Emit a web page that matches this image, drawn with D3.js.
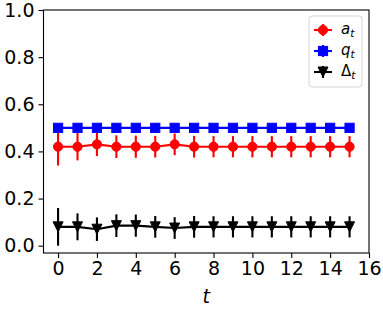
<!DOCTYPE html>
<html>
<head>
<meta charset="utf-8">
<script src="https://cdn.jsdelivr.net/npm/d3@7"></script>
<style>
  body { margin: 0; background: #fff; }
  svg { display: block; }
  .axis text { font-family: "DejaVu Sans", sans-serif; font-size: 19px; fill: #000; }
  .axis path, .axis line { stroke: #000; stroke-width: 1.1; }
</style>
</head>
<body>
<svg width="383" height="310"></svg>
<script>
// values
const t = [0,1,2,3,4,5,6,7,8,9,10,11,12,13,14,15]
const a = [0.42,0.42,0.43,0.42,0.42,0.42,0.43,0.42,0.42,0.42,0.42,0.42,0.42,0.42,0.42,0.42]
const aErr = [0.08,0.058,0.05,0.048,0.047,0.046,0.046,0.046,0.045,0.045,0.045,0.045,0.045,0.045,0.045,0.045]
const q = [0.5,0.5,0.5,0.5,0.5,0.5,0.5,0.5,0.5,0.5,0.5,0.5,0.5,0.5,0.5,0.5]
const qErr = [0,0,0,0,0,0,0,0,0,0,0,0,0,0,0,0]
const delta = [0.08,0.08,0.07,0.085,0.085,0.08,0.075,0.08,0.08,0.08,0.08,0.08,0.08,0.08,0.08,0.08]
const deltaErr = [0.08,0.057,0.05,0.048,0.047,0.046,0.046,0.046,0.045,0.045,0.045,0.045,0.045,0.045,0.045,0.045]
const xTicks = [0,2,4,6,8,10,12,14,16]
const yTicks = [0.0,0.2,0.4,0.6,0.8,1.0]

const svg = d3.select('svg')
const pLeft = 43.5, pRight = 369, pTop = 10, pBottom = 253

const x = d3.scaleLinear().domain([-0.75, 16]).range([pLeft, pRight])
const y = d3.scaleLinear().domain([-0.031, 1.0]).range([pBottom, pTop])

const series = [
  {vals: a, err: aErr, color: '#ff0000', marker: 'circle', label: 'a'},
  {vals: q, err: qErr, color: '#0000ff', marker: 'square', label: 'q'},
  {vals: delta, err: deltaErr, color: '#000000', marker: 'tri', label: 'Δ'}
]

function drawMarker(g, kind, cx, cy, color) {
  if (kind == 'circle') {
    g.append('circle').attr('cx', cx).attr('cy', cy).attr('r', 4.6)
      .attr('fill', color).attr('stroke', color).attr('stroke-width', 1)
  } else if (kind == 'square') {
    g.append('rect').attr('x', cx - 4.6).attr('y', cy - 4.6).attr('width', 9.2).attr('height', 9.2)
      .attr('fill', color).attr('stroke', color).attr('stroke-width', 1)
  } else {
    const s = 5
    g.append('path').attr('d', `M${cx-s},${cy-s}L${cx+s},${cy-s}L${cx},${cy+s}Z`)
      .attr('fill', color).attr('stroke', color).attr('stroke-width', 1).attr('stroke-linejoin', 'miter')
  }
}

const plot = svg.append('g')
series.forEach((s) => {
  const g = plot.append('g')
  g.append('path')
    .datum(t)
    .attr('fill', 'none')
    .attr('stroke', s.color)
    .attr('stroke-width', 2.1)
    .attr('d', d3.line().x(d => x(d)).y((d, i) => y(s.vals[i])))
  t.forEach((d, i) => {
    if (s.err[i] > 0) {
      g.append('line')
        .attr('x1', x(d)).attr('x2', x(d))
        .attr('y1', y(s.vals[i] - s.err[i])).attr('y2', y(s.vals[i] + s.err[i]))
        .attr('stroke', s.color).attr('stroke-width', 2.1)
    }
  })
  t.forEach((d, i) => drawMarker(g, s.marker, x(d), y(s.vals[i]), s.color))
})

// frame
svg.append('rect')
  .attr('x', pLeft).attr('y', pTop).attr('width', pRight - pLeft).attr('height', pBottom - pTop)
  .attr('fill', 'none').attr('stroke', '#000').attr('stroke-width', 1.1)

svg.append('g')
  .attr('class', 'axis')
  .attr('transform', `translate(0,${pBottom})`)
  .call(d3.axisBottom(x).tickValues(xTicks).tickSize(5).tickPadding(4).tickFormat(d3.format('d')))
  .call(g => g.select('.domain').remove())

svg.append('g')
  .attr('class', 'axis')
  .attr('transform', `translate(${pLeft},0)`)
  .call(d3.axisLeft(y).tickValues(yTicks).tickSize(5).tickPadding(4).tickFormat(d3.format('.1f')))
  .call(g => g.select('.domain').remove())

svg.append('text')
  .attr('x', (pLeft + pRight) / 2).attr('y', 303)
  .attr('text-anchor', 'middle')
  .attr('font-family', 'DejaVu Sans').attr('font-style', 'italic').attr('font-size', 19)
  .text('t')

// legend
const leg = svg.append('g')
leg.append('rect')
  .attr('x', 309).attr('y', 16).attr('width', 53).attr('height', 71).attr('rx', 3)
  .attr('fill', '#fff').attr('fill-opacity', 0.8).attr('stroke', '#d6d6d6').attr('stroke-width', 1)
series.forEach((s, i) => {
  const cy = 30 + i * 21
  const cx = 323
  leg.append('line').attr('x1', cx - 9).attr('x2', cx + 9).attr('y1', cy).attr('y2', cy)
    .attr('stroke', s.color).attr('stroke-width', 2.1)
  leg.append('line').attr('x1', cx).attr('x2', cx).attr('y1', cy - 6).attr('y2', cy + 6)
    .attr('stroke', s.color).attr('stroke-width', 2.1)
  drawMarker(leg, s.marker, cx, cy, s.color)
  const tx = leg.append('text')
    .attr('x', 341).attr('y', cy + 4)
    .attr('font-family', 'DejaVu Sans').attr('font-size', 15)
  tx.append('tspan').attr('font-style', s.label == 'Δ' ? 'normal' : 'italic').text(s.label)
  tx.append('tspan').attr('font-style', 'italic').attr('font-size', 10.5).attr('dy', 3).text('t')
})
</script>
</body>
</html>
